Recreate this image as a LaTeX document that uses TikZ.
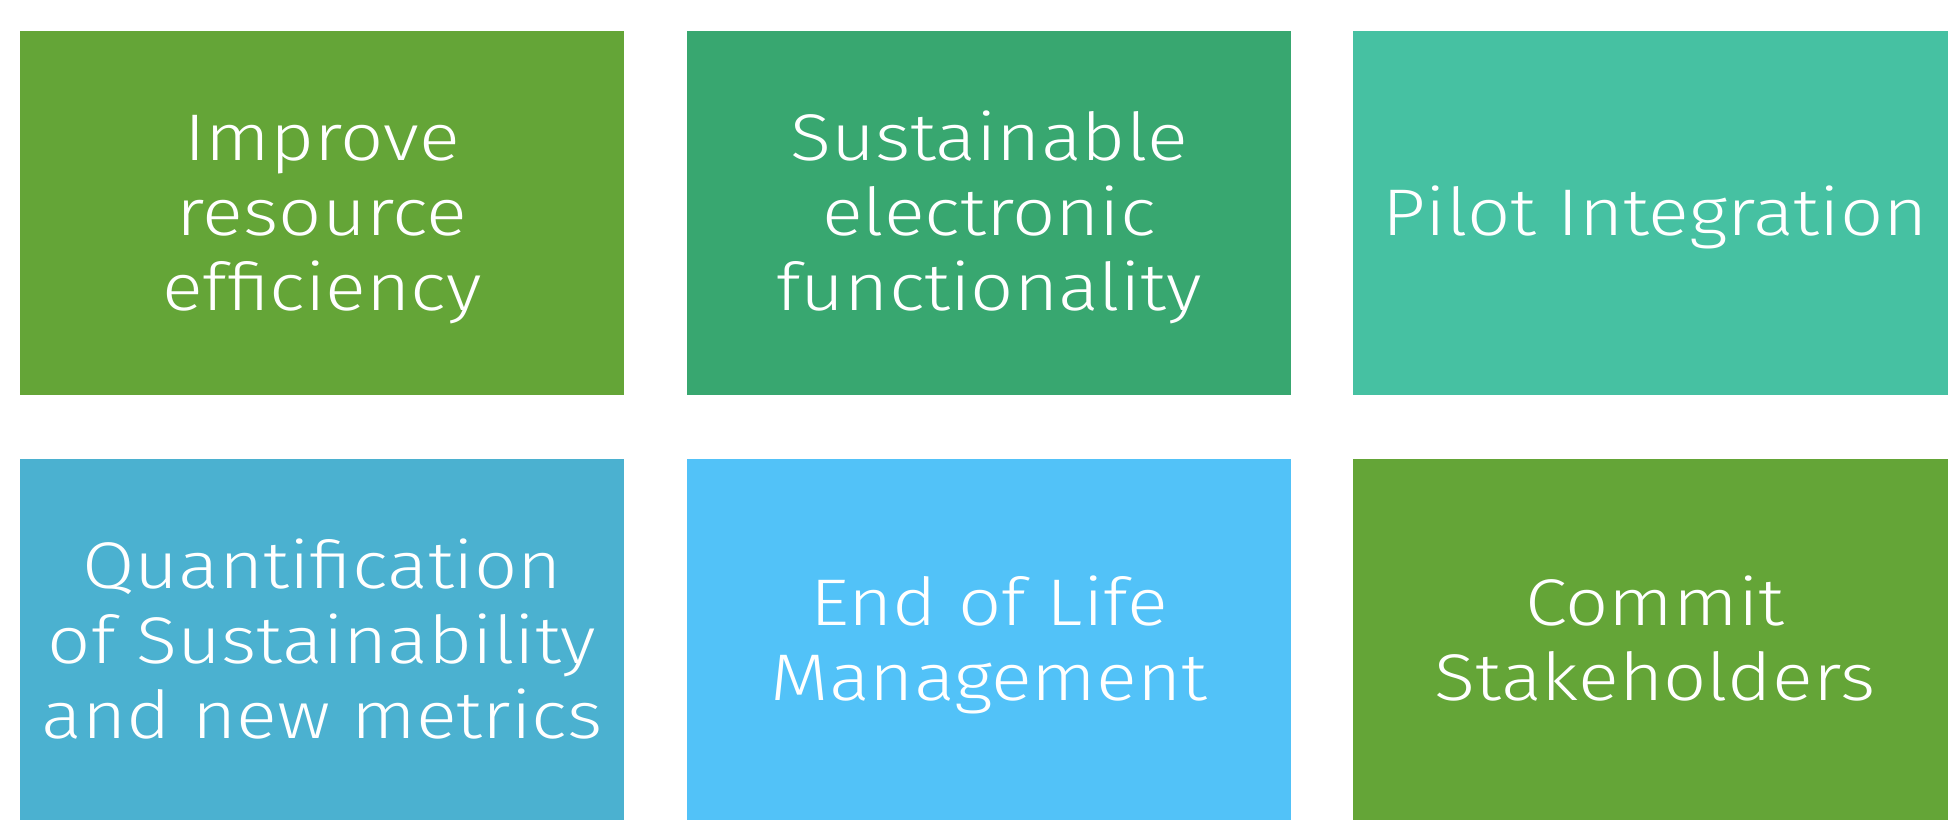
\documentclass[tikz,border=0pt]{standalone}
\usepackage{fontspec}
\setmainfont{Fira Sans Light}[FakeStretch=1.15]
\definecolor{cgreen}{RGB}{100,165,55}
\definecolor{cdgreen}{RGB}{56,167,112}
\definecolor{cteal}{RGB}{70,193,162}
\definecolor{cblue}{RGB}{75,177,208}
\definecolor{clblue}{RGB}{82,194,248}
\newcommand{\tiletext}[1]{\raisebox{-7pt}[\height][\depth]{\begin{tabular}{@{}c@{}}#1\end{tabular}}}
\begin{document}
\begin{tikzpicture}[x=1pt,y=-1pt,
  tile/.style={rectangle, minimum width=604pt, minimum height=364pt, inner sep=0pt, draw=none,
    text=white, align=center, font=\fontsize{66}{75}\selectfont}]
\useasboundingbox (0,0) rectangle (1948,819);
\node[tile, fill=cgreen]  (b1) at (322,213) {\tiletext{Improve\\resource\\efficiency}};
\node[tile, fill=cdgreen] (b2) at (989,213) {\tiletext{Sustainable\\electronic\\functionality}};
\node[tile, fill=cteal]   (b3) at (1655,213) {\tiletext{Pilot Integration}};
\node[tile, fill=cblue]   (b4) at (322,641) {\tiletext{Quantification\\of Sustainability\\and new metrics}};
\node[tile, fill=clblue]  (b5) at (989,641) {\tiletext{End of Life\\Management}};
\node[tile, fill=cgreen]  (b6) at (1655,641) {\tiletext{Commit\\Stakeholders}};
\end{tikzpicture}
\end{document}
